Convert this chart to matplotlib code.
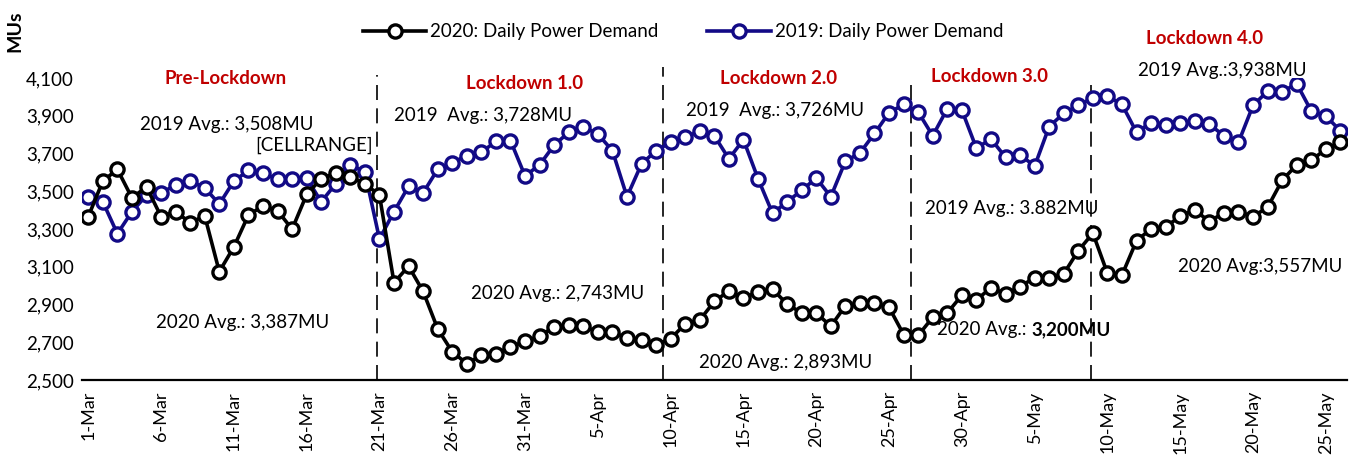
import matplotlib
matplotlib.use("Agg")
import matplotlib.pyplot as plt

plt.rcParams['font.family'] = ['Lato', 'DejaVu Sans']

# ---- data ----
tick_labels = ["1-Mar", "6-Mar", "11-Mar", "16-Mar", "21-Mar", "26-Mar", "31-Mar",
               "5-Apr", "10-Apr", "15-Apr", "20-Apr", "25-Apr", "30-Apr", "5-May",
               "10-May", "15-May", "20-May", "25-May"]

demand_2020 = [3366, 3554, 3616, 3465, 3523, 3366, 3392, 3334, 3369, 3074,
               3205, 3374, 3422, 3397, 3299, 3483, 3567, 3596, 3575, 3540,
               3479, 3016, 3103, 2969, 2771, 2649, 2587, 2631, 2640, 2675,
               2705, 2731, 2783, 2789, 2785, 2754, 2754, 2722, 2713, 2687,
               2719, 2797, 2818, 2916, 2972, 2934, 2967, 2981, 2902, 2855,
               2855, 2785, 2893, 2907, 2907, 2885, 2741, 2736, 2832, 2855,
               2949, 2923, 2990, 2955, 2995, 3042, 3042, 3063, 3185, 3278,
               3065, 3056, 3238, 3301, 3310, 3369, 3401, 3339, 3387, 3392,
               3366, 3415, 3558, 3640, 3663, 3724, 3759]

demand_2019 = [3471, 3444, 3275, 3392, 3479, 3492, 3532, 3554, 3518, 3432,
               3554, 3610, 3596, 3563, 3567, 3570, 3444, 3540, 3640, 3602,
               3247, 3392, 3526, 3492, 3616, 3651, 3689, 3707, 3764, 3768,
               3581, 3640, 3745, 3812, 3841, 3803, 3715, 3471, 3645, 3715,
               3759, 3785, 3820, 3794, 3672, 3773, 3567, 3383, 3444, 3505,
               3570, 3471, 3659, 3703, 3806, 3916, 3960, 3920, 3794, 3937,
               3930, 3728, 3777, 3680, 3693, 3633, 3843, 3913, 3955, 3995,
               4004, 3960, 3812, 3864, 3850, 3860, 3873, 3855, 3794, 3759,
               3955, 4030, 4027, 4070, 3925, 3899, 3820]

phase_bounds = [19.8, 39.5, 56.5, 68.9]
phase_tops = [4116, 4160, 4090, 4095]
y_ticks = [2500, 2700, 2900, 3100, 3300, 3500, 3700, 3900, 4100]

days = list(range(len(demand_2020)))

BLUE = '#120A86'
RED = '#C00000'

fig = plt.figure(figsize=(13.6, 4.57), dpi=100)
ax = fig.add_axes([0.0603, 0.1685, 0.9301, 0.6608])

mk = dict(marker='o', markersize=9.5, markerfacecolor='white', markeredgewidth=2.4)
l20, = ax.plot(days, demand_2020, color='black', lw=2.6, markeredgecolor='black', zorder=4,
               label='2020: Daily Power Demand', **mk)
l19, = ax.plot(days, demand_2019, color=BLUE, lw=2.6, markeredgecolor=BLUE, zorder=3,
               label='2019: Daily Power Demand', **mk)

for xb, top in zip(phase_bounds, phase_tops):
    ax.plot([xb, xb], [2500, top], color='black', lw=1.2, ls=(0, (9, 5)), clip_on=False, zorder=2)

ax.set_xlim(-0.43, 86.45)
ax.set_ylim(2500, 4100)
ax.set_yticks(y_ticks)
ax.set_yticklabels([f"{v:,}" for v in y_ticks], fontsize=13.5)
ax.set_xticks(list(range(0, len(days), 5)))
ax.set_xticklabels(tick_labels, rotation=90, fontsize=13)
ax.tick_params(axis='y', length=0, pad=6)
ax.tick_params(axis='x', length=0, pad=8)
for s in ['top', 'right', 'left']:
    ax.spines[s].set_visible(False)
ax.spines['bottom'].set_linewidth(1.6)

fs = 13.5
def t(x, y, s, **kw):
    kw.setdefault('fontsize', fs)
    ax.text(x, y, s, ha=kw.pop('ha', 'center'), va='center', clip_on=False, **kw)

# phase titles
t(9.4, 4095, "Pre-Lockdown", color=RED, fontweight='bold')
t(30.0, 4069, "Lockdown 1.0", color=RED, fontweight='bold')
t(47.4, 4100, "Lockdown 2.0", color=RED, fontweight='bold')
t(61.9, 4110, "Lockdown 3.0", color=RED, fontweight='bold')
t(76.7, 4310, "Lockdown 4.0", color=RED, fontweight='bold')

# averages
t(9.5, 3853, "2019 Avg.: 3,508MU")
t(15.5, 3743, "[CELLRANGE]")
t(10.6, 2804, "2020 Avg.: 3,387MU")
t(27.1, 3901, "2019  Avg.: 3,728MU")
t(32.2, 2956, "2020 Avg.: 2,743MU")
t(47.2, 3927, "2019  Avg.: 3,726MU")
t(47.9, 2594, "2020 Avg.: 2,893MU")
t(63.4, 3408, "2019 Avg.: 3.882MU")
t(64.45, 2768, "2020 Avg.:", ha='right')
t(64.75, 2768, "3,200MU", ha='left', fontweight='bold')
t(77.9, 4142, "2019 Avg.:3,938MU")
t(80.5, 3103, "2020 Avg:3,557MU")

fig.text(15 / 1360, 1 - 31 / 457, "MUs", rotation=90, ha='center', va='center',
         fontsize=14, fontweight='bold')

fig.legend(handles=[l20, l19], loc='center', bbox_to_anchor=(683 / 1360, 1 - 32 / 457),
           ncol=2, frameon=False, fontsize=13.5, handlelength=3.4, handletextpad=0.2,
           columnspacing=2.6)

fig.savefig("out.png", dpi=100)
